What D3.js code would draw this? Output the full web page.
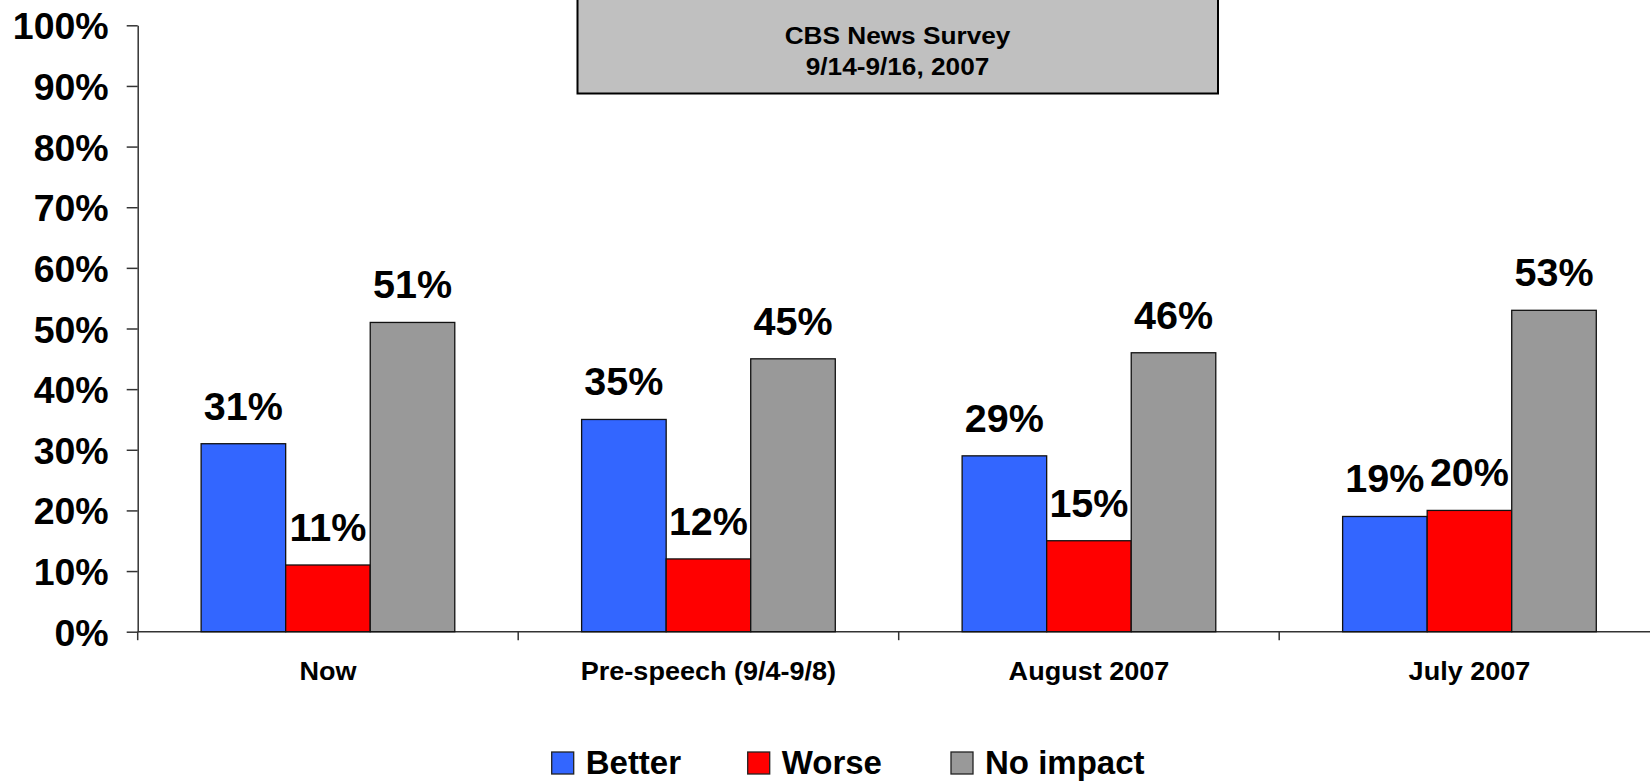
<!DOCTYPE html>
<html>
<head>
<meta charset="utf-8">
<script src="https://cdn.jsdelivr.net/npm/d3@7"></script>
<style>
  html, body { margin: 0; padding: 0; background: #fff; overflow: hidden; }
  svg { display: block; font-family: "Liberation Sans", Arial, Helvetica, sans-serif; font-weight: bold; }
</style>
</head>
<body>
<svg id="chart" width="1650" height="781"></svg>
<script>
const categories = ["Now", "Pre-speech (9/4-9/8)", "August 2007", "July 2007"];
const seriesNames = ["Better", "Worse", "No impact"];
const better = [31, 35, 29, 19];
const worse = [11, 12, 15, 20];
const noImpact = [51, 45, 46, 53];
const seriesValues = [better, worse, noImpact];
const seriesColors = ["#3366FF", "#FF0000", "#999999"];
const yTicks = [0, 10, 20, 30, 40, 50, 60, 70, 80, 90, 100];
const titleLines = ["CBS News Survey", "9/14-9/16, 2007"];

const svg = d3.select("#chart");

const y = d3.scaleLinear().domain([0, 100]).range([631.7, 25.3]);
const x0 = d3.scaleBand().domain(categories).range([137.7, 1659.7]).paddingInner(0).paddingOuter(0);
const x1 = d3.scaleBand().domain(seriesNames).range([0, x0.bandwidth()]).paddingInner(0).paddingOuter(0.75);
const color = d3.scaleOrdinal().domain(seriesNames).range(seriesColors);

// Title box
const tb = svg.append("g");
tb.append("rect")
  .attr("x", 577.5).attr("y", -10)
  .attr("width", 640.5).attr("height", 103.5)
  .attr("fill", "#c0c0c0").attr("stroke", "#000").attr("stroke-width", 2);
tb.selectAll("text.title").data(titleLines).enter().append("text")
  .attr("class", "title")
  .attr("transform", (d, i) => `translate(897.5,${i === 0 ? 44 : 75}) scale(1.07,1)`)
  .attr("text-anchor", "middle")
  .attr("font-size", 24.5)
  .attr("fill", "#000")
  .text(d => d);

// Y axis
const yAxis = d3.axisLeft(y).tickValues(yTicks).tickFormat(d => d + "%").tickSize(11).tickSizeOuter(0).tickPadding(18);
const gy = svg.append("g").attr("transform", "translate(137.7,0)").call(yAxis);
gy.select(".domain").attr("stroke", "#333").attr("stroke-width", 1.5);
gy.selectAll(".tick line").attr("stroke", "#333").attr("stroke-width", 1.5);
gy.selectAll(".tick text")
  .attr("font-size", 37.5).attr("font-family", "Liberation Sans, Arial, sans-serif")
  .attr("font-weight", "bold").attr("fill", "#000").attr("dy", "0.36em");

// X axis (line + category boundary ticks)
const gx = svg.append("g");
gx.append("line")
  .attr("x1", x0.range()[0]).attr("x2", x0.range()[1])
  .attr("y1", y(0)).attr("y2", y(0))
  .attr("stroke", "#333").attr("stroke-width", 1.5);
gx.selectAll("line.ct").data(categories).enter().append("line")
  .attr("class", "ct")
  .attr("x1", d => x0(d)).attr("x2", d => x0(d))
  .attr("y1", y(0)).attr("y2", y(0) + 8.5)
  .attr("stroke", "#333").attr("stroke-width", 1.5);
gx.selectAll("text.cat").data(categories).enter().append("text")
  .attr("class", "cat")
  .attr("transform", d => `translate(${x0(d) + x0.bandwidth() / 2},680) scale(1.06,1)`)
  .attr("text-anchor", "middle")
  .attr("font-size", 25.5)
  .attr("fill", "#000")
  .text(d => d);

// Bars
const rows = [];
categories.forEach((c, ci) => {
  seriesNames.forEach((s, si) => rows.push({ cat: c, series: s, value: seriesValues[si][ci] }));
});

const gb = svg.append("g");
gb.selectAll("rect.bar").data(rows).enter().append("rect")
  .attr("class", "bar")
  .attr("x", d => x0(d.cat) + x1(d.series))
  .attr("y", d => y(d.value))
  .attr("width", x1.bandwidth())
  .attr("height", d => y(0) - y(d.value))
  .attr("fill", d => color(d.series))
  .attr("stroke", "#111").attr("stroke-width", 1.3);

gb.selectAll("text.val").data(rows).enter().append("text")
  .attr("class", "val")
  .attr("x", d => x0(d.cat) + x1(d.series) + x1.bandwidth() / 2)
  .attr("y", d => y(d.value) - 24)
  .attr("text-anchor", "middle")
  .attr("font-size", 39.5)
  .attr("fill", "#000")
  .text(d => d.value + "%");

// Legend
const legendX = [551.7, 747.7, 951];
const lg = svg.append("g");
const items = lg.selectAll("g.li").data(seriesNames).enter().append("g")
  .attr("class", "li")
  .attr("transform", (d, i) => `translate(${legendX[i]},752)`);
items.append("rect")
  .attr("width", 22).attr("height", 22)
  .attr("fill", d => color(d))
  .attr("stroke", "#222").attr("stroke-width", 1.3);
items.append("text")
  .attr("x", 34).attr("y", 22)
  .attr("font-size", 33)
  .attr("fill", "#000")
  .text(d => d);
</script>
</body>
</html>
